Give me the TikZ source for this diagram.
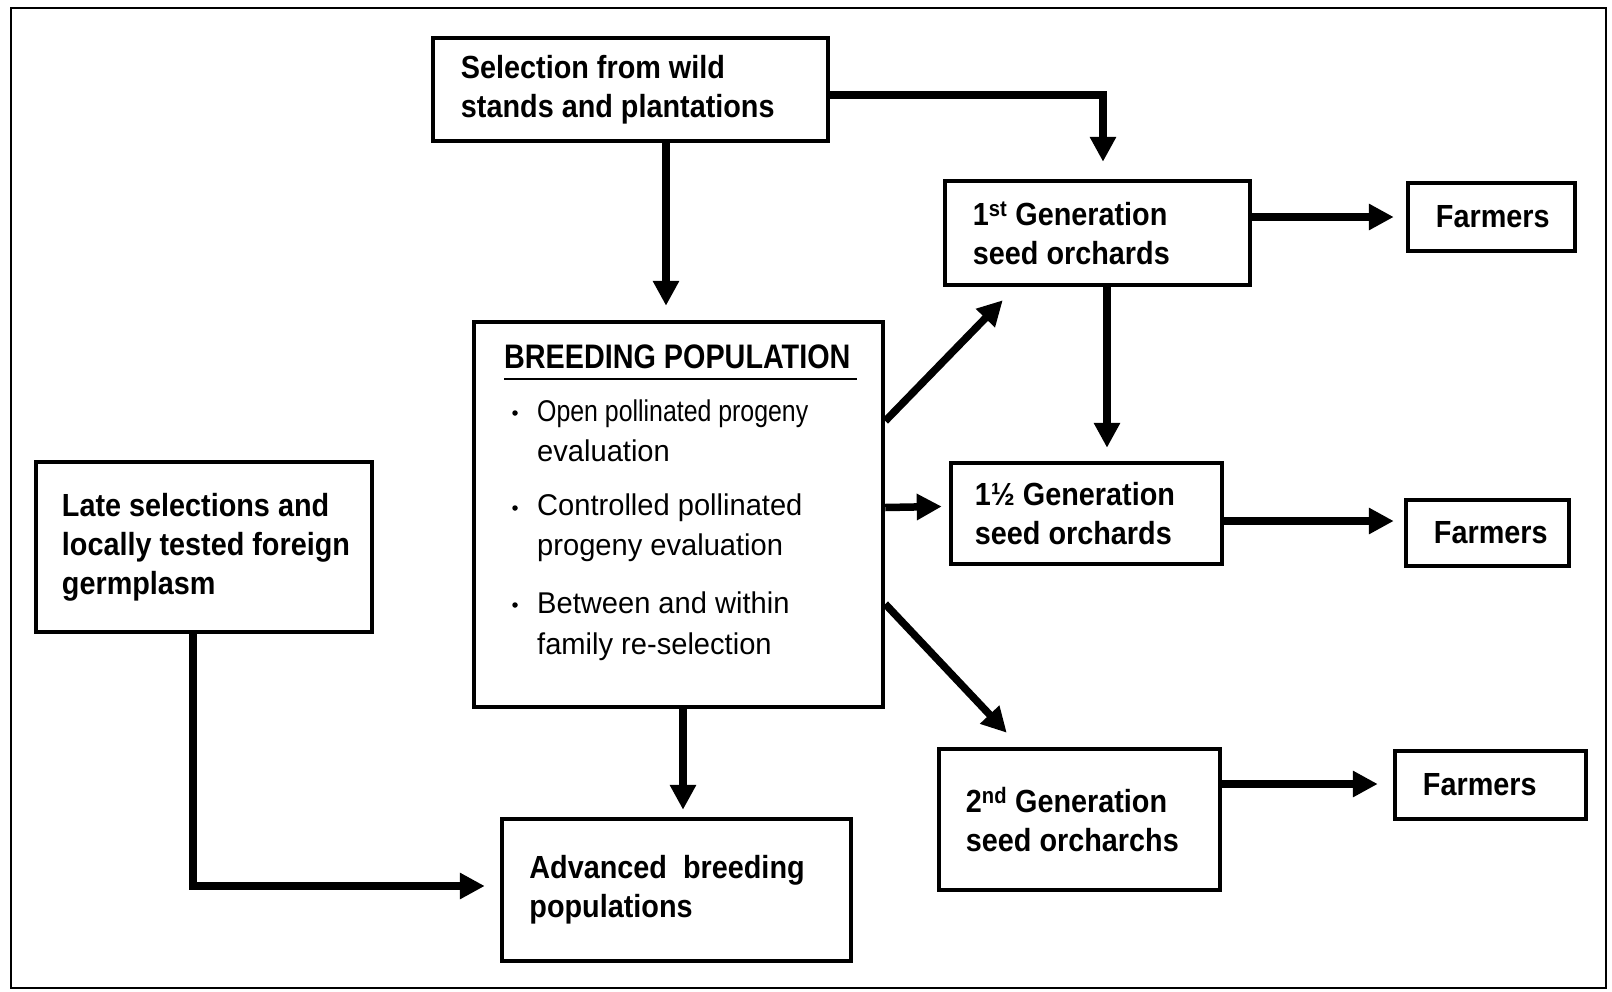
\documentclass[tikz,border=0pt]{standalone}
\usepackage{fontspec}
\setmainfont{Liberation Sans}
\newfontfamily\condfont{Liberation Sans}[FakeStretch=0.9]
\newfontfamily\bulfont{Liberation Sans}[FakeStretch=0.97]
\usetikzlibrary{arrows.meta}
\begin{document}
\begin{tikzpicture}[x=1pt,y=-1pt,
  box/.style={draw, line width=4.5pt, fill=white, inner sep=0pt},
  txt/.style={anchor=west, inner sep=0pt, align=left, font=\condfont\bfseries\fontsize{32}{39}\selectfont},
  bul/.style={anchor=base west, inner sep=0pt, font=\bulfont\fontsize{30}{40}\selectfont},
  dot/.style={circle, fill, inner sep=0pt, minimum size=5.5pt},
  arr/.style={line width=7.5pt, -{Triangle[length=25pt,width=25pt]}}]
\useasboundingbox (0,0) rectangle (1612,991);
\fill[white] (0,0) rectangle (1612,991);
\draw[line width=2.5pt] (11,8) rectangle (1606,988);

% boxes
\node[box, minimum width=395pt, minimum height=103pt] (sel) at (630.5,89.5) {};
\node[box, minimum width=305pt, minimum height=104pt] (g1) at (1097.5,233) {};
\node[box, minimum width=167pt, minimum height=68pt] (f1) at (1491.5,217) {};
\node[box, minimum width=409pt, minimum height=385pt] (bp) at (678.5,514.5) {};
\node[box, minimum width=271pt, minimum height=101pt] (g15) at (1086.5,513.5) {};
\node[box, minimum width=163pt, minimum height=66pt] (f2) at (1487.5,533) {};
\node[box, minimum width=336pt, minimum height=170pt] (late) at (204,547) {};
\node[box, minimum width=349pt, minimum height=142pt] (adv) at (676.5,890) {};
\node[box, minimum width=281pt, minimum height=141pt] (g2) at (1079.5,819.5) {};
\node[box, minimum width=191pt, minimum height=68pt] (f3) at (1490.5,785) {};

% texts
\node[txt] (selT) at ([xshift=30pt]sel.west) {Selection from wild\\stands and plantations};
\node[txt] (g1T) at ([xshift=30pt]g1.west) {1\textsuperscript{st} Generation\\seed orchards};
\node[txt] (f1T) at ([xshift=30pt]f1.west) {Farmers};
\node[txt] (g15T) at ([xshift=26pt]g15.west) {1½ Generation\\ seed orchards};
\node[txt] (f2T) at ([xshift=30pt]f2.west) {Farmers};
\node[txt] (lateT) at ([xshift=28pt]late.west) {Late selections and\\locally tested foreign\\germplasm};
\node[txt] (advT) at ([xshift=29.5pt]adv.west) {Advanced\ \ breeding\\populations};
\node[txt] (g2T) at ([xshift=29pt]g2.west) {2\textsuperscript{nd} Generation\\seed orcharchs};
\node[txt] (f3T) at ([xshift=30pt]f3.west) {Farmers};

% breeding population contents
\node[anchor=base west, inner sep=0pt, font=\condfont\bfseries\fontsize{34}{40}\selectfont] (bpT) at (504,368) {\scalebox{0.94}[1]{BREEDING POPULATION}};
\draw[line width=2.5pt] (504,379) -- (857,379);
\node[dot] (d1) at (515,413) {};
\node[dot] (d2) at (515,508) {};
\node[dot] (d3) at (515,605) {};
\node[bul] (b1a) at (537,421) {\scalebox{0.855}[1]{Open pollinated progeny}};
\node[bul] (b1b) at (537,461) {evaluation};
\node[bul] (b2a) at (537,515) {Controlled pollinated};
\node[bul] (b2b) at (537,555) {progeny evaluation};
\node[bul] (b3a) at (537,613) {Between and within};
\node[bul] (b3b) at (537,654) {family re-selection};

% connectors
\draw[arr] ([yshift=-5.5pt]sel.east) -| ([xshift=5.5pt,yshift=17pt]g1.north);
\draw[arr] ([xshift=35.5pt]sel.south) -- ([xshift=-12.5pt,yshift=14pt]bp.north);
\draw[arr] ([yshift=93.5pt]bp.east) -- ([xshift=60pt,yshift=-13pt]g1.south west);
\draw[arr] ([yshift=7pt]bp.east) -- ([xshift=-7pt,yshift=7pt]g15.west);
\draw[arr] ([yshift=-89.5pt]bp.east) -- ([xshift=70pt,yshift=14pt]g2.north west);
\draw[arr] ([xshift=4.5pt]bp.south) -- ([xshift=6.5pt,yshift=7pt]adv.north);
\draw[arr] ([xshift=-11pt]late.south) |- ([xshift=-15pt,yshift=4pt]adv.west);
\draw[arr] ([xshift=9.5pt]g1.south) -- ([xshift=20.5pt,yshift=13pt]g15.north);
\draw[arr] ([yshift=16pt]g1.east) -- ([xshift=-12pt,yshift=0pt]f1.west);
\draw[arr] ([yshift=-7.5pt]g15.east) -- ([xshift=-10pt,yshift=12pt]f2.west);
\draw[arr] ([yshift=35.5pt]g2.east) -- ([xshift=-15pt,yshift=1pt]f3.west);
\end{tikzpicture}
\end{document}
